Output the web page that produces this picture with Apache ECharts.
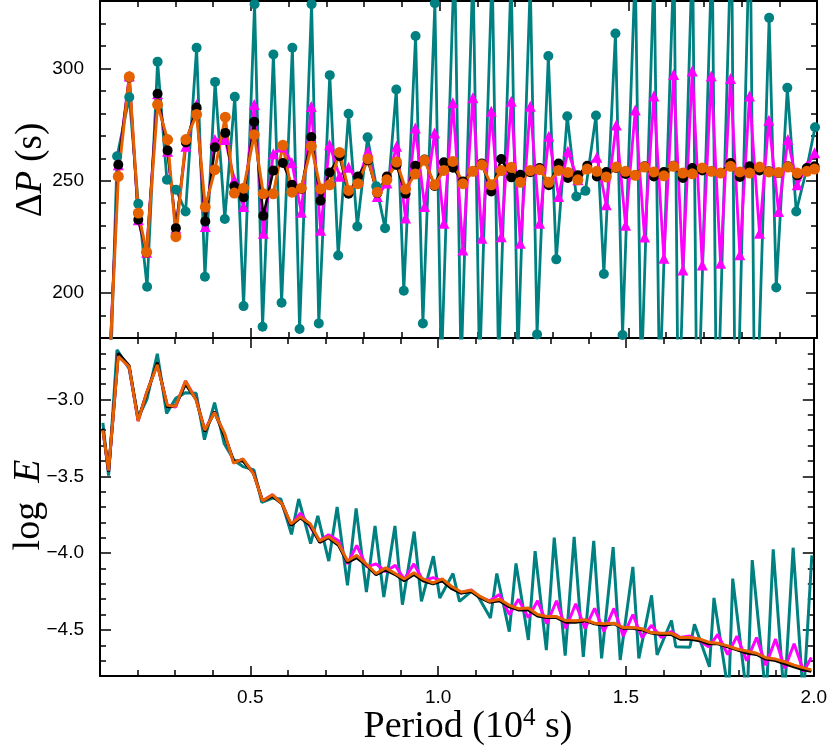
<!DOCTYPE html>
<html>
<head>
<meta charset="utf-8">
<title>Period spacing and log E</title>
<script src="https://cdn.jsdelivr.net/npm/echarts@6/dist/echarts.min.js"></script>
<style>
  html, body { margin: 0; padding: 0; background: #fff; }
  #chart { width: 830px; height: 756px; }
</style>
</head>
<body>
<div id="chart"></div>
<script>
// mode periods (10^4 s) of the black, magenta and orange models
const periods = [0.1077, 0.1228, 0.1485, 0.1776, 0.2015, 0.2235, 0.2526, 0.2791, 0.3011, 0.3276,
  0.3560, 0.3790, 0.4045, 0.4320, 0.4559, 0.4805, 0.5088, 0.5327, 0.5592, 0.5846,
  0.6085, 0.6334, 0.6599, 0.6845, 0.7084, 0.7349, 0.7587, 0.7834, 0.8099, 0.8348,
  0.8602, 0.8859, 0.9098, 0.9355, 0.9601, 0.9866, 1.0112, 1.0351, 1.0616, 1.0881,
  1.1119, 1.1368, 1.1633, 1.1898, 1.2137, 1.2402, 1.2648, 1.2894, 1.3152, 1.3398,
  1.3663, 1.3912, 1.4166, 1.4415, 1.4680, 1.4927, 1.5184, 1.5430, 1.5677, 1.5942,
  1.6199, 1.6445, 1.6694, 1.6959, 1.7198, 1.7444, 1.7709, 1.7955, 1.8212, 1.8477,
  1.8724, 1.8981, 1.9228, 1.9476, 1.9731, 1.9935]
// mode periods of the teal model
const periodsTeal = [0.1077, 0.1228, 0.1453, 0.1776, 0.2015, 0.2248, 0.2526, 0.2773, 0.3016, 0.3268,
  0.3560, 0.3780, 0.4050, 0.4307, 0.4572, 0.4805, 0.5096, 0.5308, 0.5595, 0.5812,
  0.6098, 0.6289, 0.6607, 0.6798, 0.7089, 0.7312, 0.7587, 0.7818, 0.8091, 0.8321,
  0.8554, 0.8851, 0.9050, 0.9363, 0.9556, 0.9874, 1.0044, 1.0396, 1.0568, 1.0883,
  1.1058, 1.1392, 1.1562, 1.1895, 1.2073, 1.2402, 1.2582, 1.2881, 1.3091, 1.3382,
  1.3621, 1.3864, 1.4143, 1.4352, 1.4659, 1.4847, 1.5184, 1.5343, 1.5682, 1.5828,
  1.6212, 1.6326, 1.6702, 1.6824, 1.7222, 1.7343, 1.7736, 1.7842, 1.8226, 1.8361,
  1.8732, 1.8920, 1.9214, 1.9450, 1.9723, 1.9948]

// period spacing (s), starts at the second mode
const dpTeal = [136, 260.9, 287.2, 239.7, 202.8, 303, 250.4, 246, 236.3, 309.2,
  207.3, 294, 233, 287.4, 194.2, 328.6, 185, 306.2, 195.7, 309.2,
  184, 328.6, 186.5, 297, 216.7, 279.8, 229.6, 269.3, 247.5, 228.9,
  290.6, 201, 314.4, 186.5, 329, 165, 352, 165, 345, 165,
  345, 168, 342, 172, 338, 181.6, 305.5, 215, 278.7, 243,
  245.5, 279, 208.5, 315.5, 181.3, 345, 160, 345, 155, 350,
  135, 355, 130, 355, 130, 365, 110, 370, 120, 322.5,
  202.5, 291.4, 236.3, 255, 273.8]
const dpMagenta = [158, 257.1, 296.6, 232.6, 218.2, 288.7, 263.1, 228.9, 265.3, 283.9,
  229.6, 268.3, 268.3, 250.4, 238.5, 283.9, 226.6, 262, 265, 258,
  236, 283, 228, 266, 252, 256, 249.7, 263.1, 243, 249,
  265.3, 233.4, 273.5, 238.5, 271.3, 231.1, 284.7, 219.2, 286.9, 224.4,
  280.9, 225.1, 285.4, 222.2, 283.2, 231.1, 269.8, 243, 263.1, 250.4,
  256.4, 260.5, 239.3, 274.8, 230.2, 281.5, 224.9, 287.7, 215.5, 297.3,
  210.3, 298.8, 212.5, 296.6, 213.3, 295.5, 217, 287.7, 226.6, 276.9,
  236.3, 268.3, 248.2, 256.4, 262.4]
const dpBlack = [158, 257.1, 296, 232.6, 218, 288.7, 263.5, 228.9, 267, 282.6,
  231.9, 264.9, 271.3, 247.5, 242.6, 276.2, 234.4, 254.5, 257.9, 248.2,
  246.3, 269.5, 241.1, 253.7, 260.9, 244.2, 251.9, 259, 244.5, 251.9,
  257, 244.2, 256.7, 259.4, 247.7, 258.2, 255.8, 249.7, 254.2, 257.7,
  245.2, 259.7, 251.5, 252.7, 253.8, 255.7, 248, 257.7, 251.2, 252.4,
  256.7, 251.9, 253.9, 255.7, 253, 252.5, 256.4, 251.9, 253.9, 256.7,
  251.2, 255.7, 254.6, 254.2, 253.4, 257.9, 251.7, 256.4, 254.6, 254.2,
  253.4, 256.4, 252.4, 255.7, 256.4]
const dpOrange = [158, 251.9, 296.3, 235.6, 218.2, 283.9, 268.3, 225.1, 268.3, 279.5,
  238.3, 254.9, 278.3, 244.5, 246.7, 270.5, 244.2, 244.2, 265.8, 244.9,
  246.7, 265.3, 246.4, 248.2, 262.6, 245.7, 248.7, 259.7, 244.9, 250.4,
  258.3, 246.3, 253, 259.1, 248.2, 254.6, 258.6, 248.7, 254.2, 257.1,
  248.2, 254.5, 256, 249.3, 254.5, 254.9, 249.3, 254.6, 253.7, 250.4,
  255.2, 254.2, 251.7, 256.1, 254.2, 252.4, 256.1, 253.9, 252.2, 256.4,
  253.4, 253.1, 255.7, 254.2, 253.4, 256.4, 253.9, 253.4, 256.1, 253.9,
  253.7, 256.1, 253.4, 254.2, 255.2]

// log E of every mode
const logETeal = [-3.153, -3.496, -2.677, -2.80, -3.12, -3.00, -2.703, -3.092, -2.993, -2.956,
  -2.96, -3.262, -3.02, -3.288, -3.397, -3.437, -3.458, -3.67, -3.642, -3.648,
  -3.878, -3.648, -3.938, -3.758, -4.052, -3.70, -4.21, -3.709, -4.253, -3.823,
  -4.286, -3.823, -4.336, -3.86, -4.314, -4.02, -4.292, -4.133, -4.314, -4.249,
  -4.28, -4.423, -4.133, -4.511, -4.067, -4.565, -3.987, -4.631, -3.899, -4.668,
  -3.895, -4.675, -3.921, -4.685, -3.961, -4.696, -4.09, -4.685, -4.275, -4.663,
  -4.439, -4.609, -4.613, -4.463, -4.74, -4.292, -4.92, -4.166, -4.95, -4.046,
  -4.95, -3.976, -4.95, -3.965, -4.95, -4.015]
const logEMagenta = [-3.20, -3.47, -2.71, -2.79, -3.14, -2.96, -2.77, -3.04, -3.05, -2.88,
  -3.00, -3.20, -3.08, -3.23, -3.41, -3.39, -3.48, -3.66, -3.62, -3.68,
  -3.82, -3.74, -3.83, -3.92, -3.88, -3.92, -4.07, -3.95, -4.09, -4.07,
  -4.12, -4.08, -4.17, -4.07, -4.18, -4.16, -4.18, -4.22, -4.26, -4.24,
  -4.29, -4.31, -4.27, -4.40, -4.30, -4.42, -4.31, -4.46, -4.31, -4.49,
  -4.33, -4.49, -4.36, -4.51, -4.36, -4.54, -4.40, -4.55, -4.47, -4.55,
  -4.51, -4.55, -4.54, -4.57, -4.61, -4.53, -4.66, -4.54, -4.70, -4.55,
  -4.73, -4.56, -4.75, -4.59, -4.77, -4.68]
const logEBlack = [-3.19, -3.47, -2.70, -2.78, -3.13, -2.97, -2.76, -3.05, -3.04, -2.90,
  -3.00, -3.21, -3.08, -3.24, -3.40, -3.40, -3.48, -3.66, -3.63, -3.68,
  -3.82, -3.77, -3.82, -3.93, -3.90, -3.95, -4.06, -4.03, -4.08, -4.14,
  -4.11, -4.14, -4.18, -4.14, -4.18, -4.20, -4.18, -4.23, -4.26, -4.25,
  -4.29, -4.32, -4.31, -4.35, -4.37, -4.37, -4.41, -4.42, -4.42, -4.45,
  -4.45, -4.44, -4.46, -4.47, -4.46, -4.49, -4.49, -4.50, -4.52, -4.53,
  -4.53, -4.56, -4.56, -4.57, -4.59, -4.59, -4.61, -4.63, -4.65, -4.66,
  -4.69, -4.70, -4.72, -4.74, -4.76, -4.77]
const logEOrange = [-3.20, -3.463, -2.72, -2.786, -3.14, -2.96, -2.775, -3.037, -3.044, -2.88,
  -3.005, -3.20, -3.085, -3.223, -3.415, -3.386, -3.485, -3.66, -3.62, -3.68,
  -3.81, -3.764, -3.81, -3.92, -3.893, -3.94, -4.05, -4.015, -4.074, -4.133,
  -4.096, -4.133, -4.168, -4.128, -4.168, -4.194, -4.168, -4.216, -4.253, -4.242,
  -4.282, -4.314, -4.30, -4.34, -4.362, -4.358, -4.40, -4.413, -4.413, -4.439,
  -4.441, -4.434, -4.456, -4.46, -4.456, -4.485, -4.485, -4.493, -4.517, -4.521,
  -4.521, -4.55, -4.55, -4.559, -4.58, -4.587, -4.604, -4.624, -4.637, -4.652,
  -4.681, -4.69, -4.707, -4.729, -4.747, -4.76]

// tick labels
const xTicks = [0.5, 1.0, 1.5, 2.0]
const dpTicks = [200, 250, 300]
const logETicks = [-4.5, -4.0, -3.5, -3.0]

const TEAL = '#008080'
const MAGENTA = '#ff00ff'
const BLACK = '#000000'
const ORANGE = '#e66100'
const sansFont = 'Liberation Sans'
const serifFont = 'Liberation Serif'

const chart = echarts.init(document.getElementById('chart'))

const line = { color: BLACK, width: 2 }
const tick = { color: BLACK, width: 1.5 }

// two axes per side: one with minor ticks (and the spine), one with major ticks (and labels)
const makeX = (grid, pos, labels) => [
  {
    gridIndex: grid, type: 'value', position: pos, min: 0.1, max: 2.0, interval: 0.1,
    axisLine: { show: true, onZero: false, lineStyle: line },
    axisTick: { show: true, inside: true, length: 6, lineStyle: tick },
    axisLabel: { show: false }, splitLine: { show: false }
  },
  {
    gridIndex: grid, type: 'value', position: pos, min: 0.1, max: 2.0,
    axisLine: { show: false, onZero: false },
    axisTick: { show: true, inside: true, length: 10, lineStyle: tick, customValues: xTicks },
    axisLabel: {
      show: labels, customValues: xTicks, margin: 12, color: BLACK,
      fontFamily: sansFont, fontSize: 19, formatter: v => v.toFixed(1)
    },
    splitLine: { show: false }
  }
]

const makeY = (grid, pos, min, max, step, ticks, labels, fmt) => [
  {
    gridIndex: grid, type: 'value', position: pos, min: min, max: max, interval: step,
    axisLine: { show: true, onZero: false, lineStyle: line },
    axisTick: { show: true, inside: true, length: 6, lineStyle: tick },
    axisLabel: { show: false }, splitLine: { show: false }
  },
  {
    gridIndex: grid, type: 'value', position: pos, min: min, max: max,
    axisLine: { show: false, onZero: false },
    axisTick: { show: true, inside: true, length: 11, lineStyle: tick, customValues: ticks },
    axisLabel: {
      show: labels, customValues: ticks, margin: 16, color: BLACK,
      fontFamily: sansFont, fontSize: 19, formatter: fmt
    },
    splitLine: { show: false }
  }
]

const fmtDp = v => String(v)
const fmtLogE = v => v.toFixed(1).replace('-', '\u2212')

const xAxes = [].concat(
  makeX(0, 'bottom', false), makeX(0, 'top', false),
  makeX(1, 'bottom', true), makeX(1, 'top', false)
)
const yAxes = [].concat(
  makeY(0, 'left', 180, 330, 10, dpTicks, true, fmtDp),
  makeY(0, 'right', 180, 330, 10, dpTicks, false, fmtDp),
  makeY(1, 'left', -4.8, -2.6, 0.1, logETicks, true, fmtLogE),
  makeY(1, 'right', -4.8, -2.6, 0.1, logETicks, false, fmtLogE)
)

const pairs = (px, vals, start) => vals.map((v, i) => [px[i + start], v])

const topSeries = (name, px, vals, color, symbol, size, width) => ({
  name, type: 'line', xAxisIndex: 0, yAxisIndex: 0,
  data: pairs(px, vals, 1),
  symbol, symbolSize: size, showSymbol: true,
  itemStyle: { color }, lineStyle: { color, width },
  clip: true, silent: true
})

const bottomSeries = (name, px, vals, color, width) => ({
  name, type: 'line', xAxisIndex: 4, yAxisIndex: 4,
  data: pairs(px, vals, 0),
  symbol: 'none', lineStyle: { color, width },
  clip: true, silent: true
})

const option = {
  animation: false,
  backgroundColor: '#fff',
  grid: [
    { left: 100, top: 1, width: 717, height: 337 },
    { left: 100, top: 338, width: 717, height: 338 }
  ],
  xAxis: xAxes,
  yAxis: yAxes,
  series: [
    topSeries('teal', periodsTeal, dpTeal, TEAL, 'circle', 10, 2.8),
    topSeries('magenta', periods, dpMagenta, MAGENTA, 'triangle', 11, 2.8),
    topSeries('black', periods, dpBlack, BLACK, 'circle', 10, 2.5),
    topSeries('orange', periods, dpOrange, ORANGE, 'circle', 11, 3),
    bottomSeries('teal', periodsTeal, logETeal, TEAL, 3),
    bottomSeries('magenta', periods, logEMagenta, MAGENTA, 3),
    bottomSeries('black', periods, logEBlack, BLACK, 3),
    bottomSeries('orange', periods, logEOrange, ORANGE, 3)
  ],
  graphic: [
    {
      type: 'text', x: 31, y: 170, rotation: Math.PI / 2,
      style: {
        text: '{r|\u0394}{i|P}{r| (s)}', align: 'center', verticalAlign: 'middle', fill: BLACK,
        rich: {
          r: { fontFamily: serifFont, fontSize: 37, fill: BLACK },
          i: { fontFamily: serifFont, fontSize: 37, fontStyle: 'italic', fill: BLACK }
        }
      }
    },
    {
      type: 'text', x: 29, y: 505, rotation: Math.PI / 2,
      style: {
        text: '{r|log  }{i|E}', align: 'center', verticalAlign: 'middle', fill: BLACK,
        rich: {
          r: { fontFamily: serifFont, fontSize: 38, fill: BLACK },
          i: { fontFamily: serifFont, fontSize: 38, fontStyle: 'italic', fill: BLACK }
        }
      }
    },
    {
      type: 'text', x: 468, y: 727,
      style: {
        text: '{r|Period (10}{s|4}{r| s)}', align: 'center', verticalAlign: 'middle', fill: BLACK,
        rich: {
          r: { fontFamily: serifFont, fontSize: 38, lineHeight: 42, fill: BLACK },
          s: { fontFamily: serifFont, fontSize: 25, lineHeight: 42, verticalAlign: 'top', fill: BLACK }
        }
      }
    }
  ]
}

chart.setOption(option)
</script>
</body>
</html>
